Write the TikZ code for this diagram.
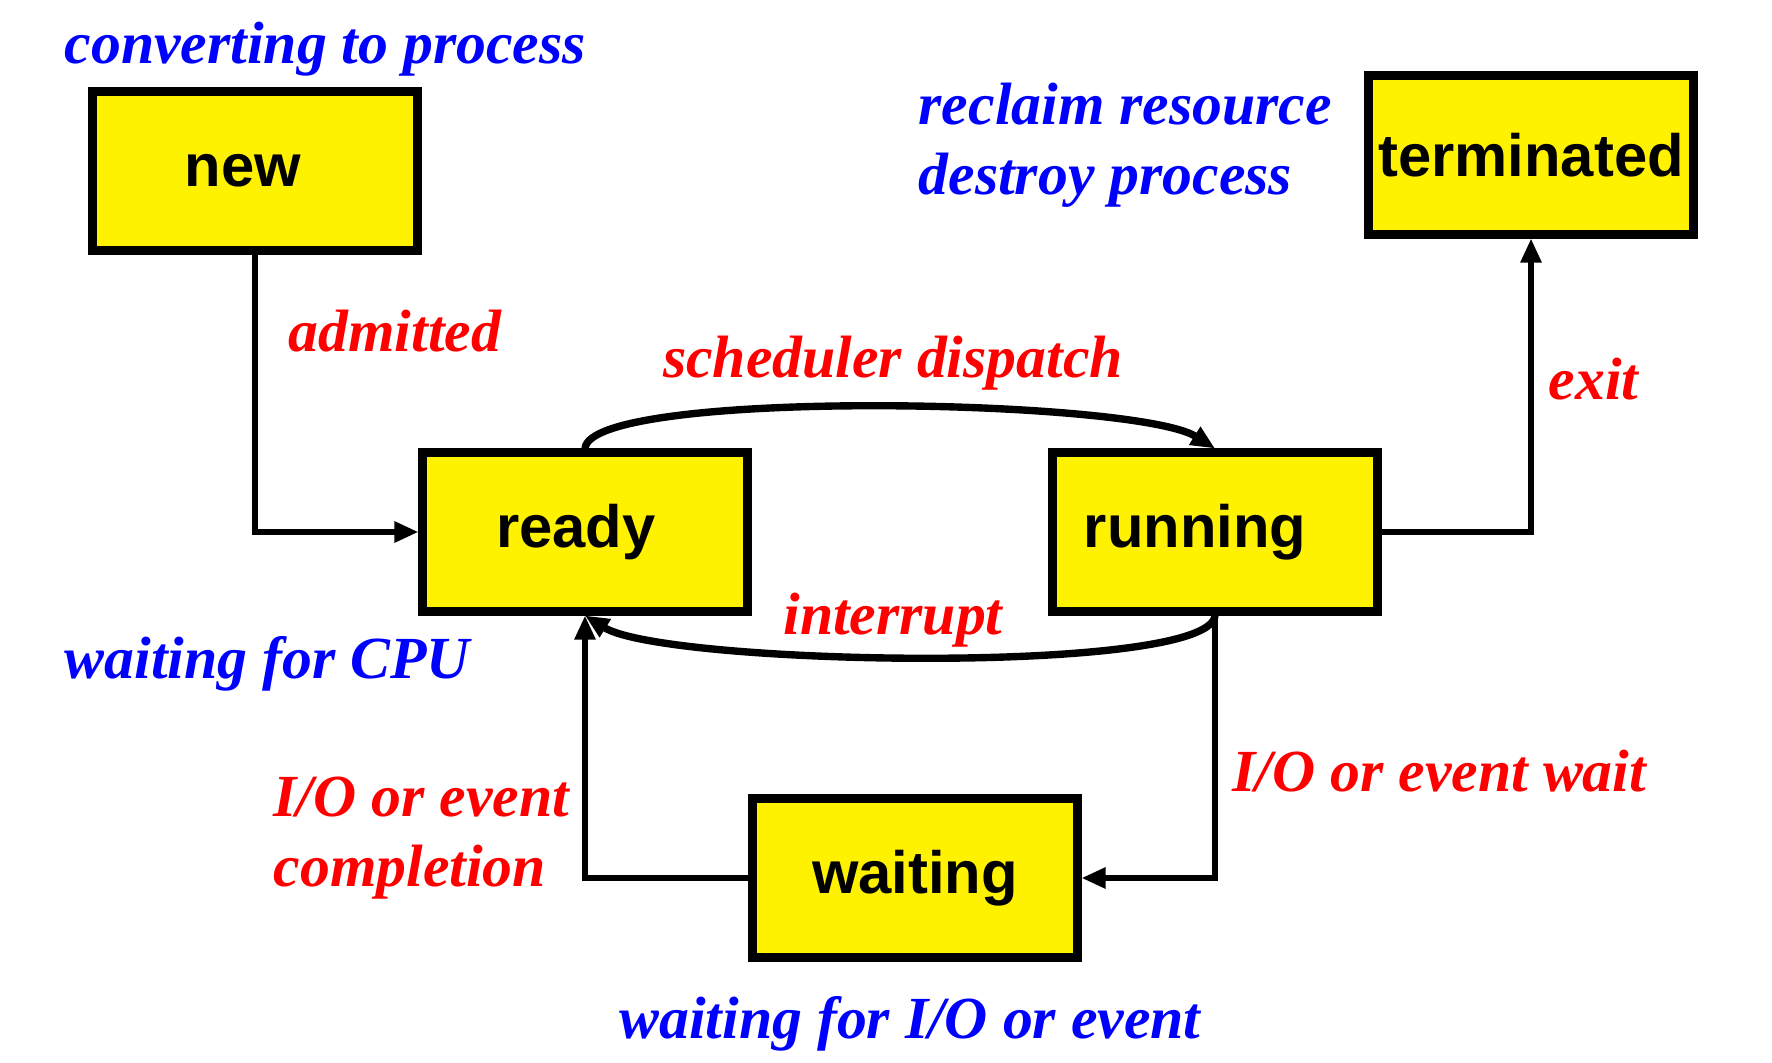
\documentclass[tikz,border=0pt]{standalone}
\usepackage{fontspec}
\setmainfont{Liberation Serif}
\setsansfont{Liberation Sans}
\usetikzlibrary{arrows.meta}
\tikzset{
  procstate/.style={draw=black, fill=yellow, line width=2.3pt, minimum width=32.5mm,
    minimum height=15.9mm, inner sep=0pt, font=\fontsize{17}{20}\selectfont\sffamily\bfseries},
  note/.style={text=blue, inner sep=0pt, align=left, font=\fontsize{17}{20}\selectfont\bfseries\itshape},
  cond/.style={note, text=red},
  flow/.style={line width=1.6pt, -{Triangle[length=2.4mm,width=2mm]}},
}
\begin{document}
\begin{tikzpicture}[x=0.1mm, y=-0.1mm]
    \useasboundingbox (0,0) rectangle (1772,1062);

    \node[procstate] (new) at (255,171) {new\kern2.4mm};
    \node[procstate] (terminated) at (1531,155) {terminated};
    \node[procstate] (ready) at (585,532) {ready\kern1.8mm};
    \node[procstate] (running) at (1215,532) {running\kern4mm};
    \node[procstate] (waiting) at (915,878) {waiting};

    \node[note, anchor=west] (convert) at (64,49) {converting to process};
    \node[note, anchor=west] (reclaim) at (918,145) {reclaim resource\\destroy process};
    \node[note, anchor=west] (cpuwait) at (64,664) {waiting for CPU};
    \node[note] (iowait) at (910,1024) {waiting for I/O or event};

    \node[cond, anchor=west] (admitted) at (288,331) {admitted};
    \node[cond] (dispatch) at (893,363) {scheduler dispatch};
    \node[cond, anchor=west] (exit) at (1548,379) {exit};
    \node[cond] (interrupt) at (893,620) {interrupt};
    \node[cond, anchor=west] (iodone) at (273,838) {I/O or event\\completion};
    \node[cond, anchor=west] (ioevent) at (1232,771) {I/O or event wait};

    \draw[flow] (new.south) |- (ready.west);
    \draw[flow, line width=2.1pt] (ready.north) .. controls +(5,-60) and +(-80,-50) .. (running.north);
    \draw[flow, line width=2.1pt] (running.south) .. controls +(-5,60) and +(80,50) .. (ready.south);
    \draw[flow] (running.east) -| (terminated.south);
    \draw[flow] (running.south) |- (waiting.east);
    \draw[flow] (waiting.west) -| (ready.south);
\end{tikzpicture}
\end{document}
